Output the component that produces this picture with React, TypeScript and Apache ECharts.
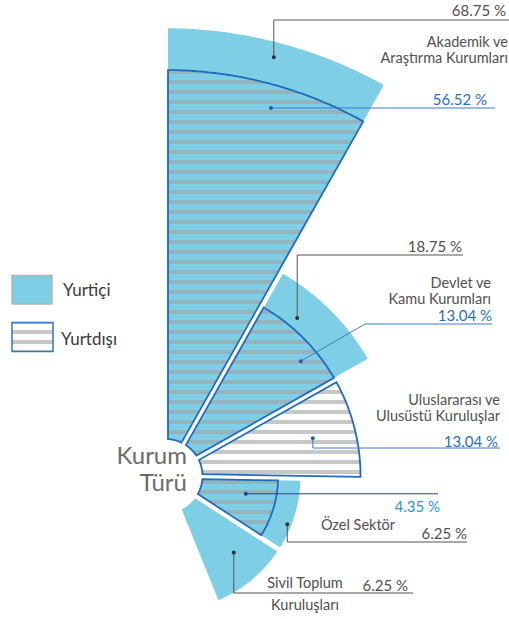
import React, { useEffect, useRef } from 'react';
import * as echarts from 'echarts';

// ---------- data ----------
const categories = [
  'Akademik ve\nAraştırma Kurumları',
  'Devlet ve\nKamu Kurumları',
  'Uluslararası ve\nUlusüstü Kuruluşlar',
  'Özel Sektör',
  'Sivil Toplum\nKuruluşları',
];
const yurtici: (number | null)[] = [68.75, 18.75, null, 6.25, 6.25];
const yurtdisi: (number | null)[] = [56.52, 13.04, 13.04, 4.35, null];
const seriesNames = ['Yurtiçi', 'Yurtdışı'];
const centerTitle = ['Kurum', 'Türü'];

// ---------- layout ----------
const W = 509;
const H = 619;
const CENTER = [165.5, 476];
const PX_PER_UNIT = 54; // radius axis unit (sqrt of %)
const RADIUS_MAX = 9;
const HOLE = 37;
const HALF_GAP = 2.5;
const EDGES = [90, 60.5, 29.5, -1, -33, -68];
const FONT = 'Lato';

const BLUE = '#7ecfe5';
const STROKE_BLUE = '#1f6bbf';
const DARK = '#505050';
const NUM_BLUE = '#2a6ec4';

type Leader = {
  f: number; ang: number; kind: 'v' | 'h' | 'd'; y?: number; elbowX?: number;
  endX: number; tx: number; ty: number; line: string; text: string; dot: string;
};
const yurticiLeaders: (Leader | null)[] = [
  { f: 0.966, ang: 75.5, kind: 'v', y: 20, endX: 509, tx: 506, ty: 10, line: '#555', text: DARK, dot: '#333' },
  { f: 0.88, ang: 50.2, kind: 'v', y: 255, endX: 463, tx: 462, ty: 246, line: '#555', text: DARK, dot: '#333' },
  null,
  { f: 0.97, ang: -21.6, kind: 'v', y: 542, endX: 467, tx: 467, ty: 533, line: '#555', text: DARK, dot: '#333' },
  { f: 0.76, ang: -48.3, kind: 'v', y: 593, endX: 413, tx: 408, ty: 585, line: '#555', text: DARK, dot: '#333' },
];
const yurtdisiLeaders: (Leader | null)[] = [
  { f: 0.943, ang: 74, kind: 'h', endX: 495, tx: 487, ty: 99, line: '#3a7bd0', text: NUM_BLUE, dot: '#1f5fb8' },
  { f: 0.91, ang: 40.3, kind: 'd', elbowX: 365, y: 324, endX: 492, tx: 492, ty: 315, line: '#3a7bd0', text: NUM_BLUE, dot: '#1f5fb8' },
  { f: 0.78, ang: 14.4, kind: 'v', y: 448, endX: 500, tx: 498, ty: 441, line: '#3a7bd0', text: NUM_BLUE, dot: '#1f5fb8' },
  { f: 0.73, ang: -12.5, kind: 'h', endX: 438, tx: 440, ty: 506, line: '#2c3e94', text: '#2196e0', dot: '#2c3e94' },
  null,
];
// name label lines: first line position and spacing
const NAME_POS: { x: number; y: number; a: string; lh: number }[] = [
  { x: 508, y: 41, a: 'right', lh: 16 },
  { x: 491, y: 282, a: 'right', lh: 16 },
  { x: 500, y: 399, a: 'right', lh: 16 },
  { x: 358, y: 524, a: 'center', lh: 16 },
  { x: 305, y: 582, a: 'center', lh: 22 },
];

function wedgePoints(cx: number, cy: number, r0: number, r1: number, a1: number, a2: number, h: number) {
  const pts: number[][] = [];
  const N = 48;
  const d = Math.PI / 180;
  const o1 = Math.asin(h / r1) / d;
  const i1 = Math.asin(h / r0) / d;
  const s = a1 + o1, e = a2 - o1;
  for (let k = 0; k <= N; k++) {
    const t = (s + ((e - s) * k) / N) * d;
    pts.push([cx + r1 * Math.cos(t), cy - r1 * Math.sin(t)]);
  }
  const s2 = a2 - i1, e2 = a1 + i1;
  for (let k = 0; k <= N; k++) {
    const t = (s2 + ((e2 - s2) * k) / N) * d;
    pts.push([cx + r0 * Math.cos(t), cy - r0 * Math.sin(t)]);
  }
  return pts;
}

export default function App() {
  const ref = useRef<HTMLDivElement>(null);
  useEffect(() => {
    const chart = echarts.init(ref.current!, null, { renderer: 'svg' });
    const canvas = document.createElement('canvas');
    canvas.width = 10;
    canvas.height = 10;
    const ctx = canvas.getContext('2d')!;
    ctx.fillStyle = 'rgba(162,162,162,0.6)';
    ctx.fillRect(0, 0, 10, 4);
    const stripe: any = { image: canvas, repeat: 'repeat', imageWidth: 10, imageHeight: 10 };

    const renderItem = (params: any, api: any) => {
      const i = params.dataIndex;
      const c = api.coord([0, 0]);
      const cx = c[0], cy = c[1];
      const radiusOf = (v: number) => {
        const p = api.coord([Math.sqrt(v), 0]);
        return Math.hypot(p[0] - cx, p[1] - cy);
      };
      const a1 = EDGES[i + 1], a2 = EDGES[i];
      const children: any[] = [];
      const vi = yurtici[i], vo = yurtdisi[i];
      if (vi != null) {
        children.push({
          type: 'polygon',
          shape: { points: wedgePoints(cx, cy, HOLE, radiusOf(vi), a1, a2, HALF_GAP) },
          style: { fill: BLUE },
        });
      }
      if (vo != null) {
        children.push({
          type: 'polygon',
          shape: { points: wedgePoints(cx, cy, HOLE, radiusOf(vo), a1, a2, HALF_GAP) },
          style: { fill: stripe, stroke: STROKE_BLUE, lineWidth: 1.8, lineJoin: 'miter' },
        });
      }
      const addLeader = (v: number | null, L: Leader | null) => {
        if (v == null || !L) return;
        const r = radiusOf(v) * L.f;
        const t = (L.ang * Math.PI) / 180;
        const dx = cx + r * Math.cos(t), dy = cy - r * Math.sin(t);
        let pts: number[][];
        if (L.kind === 'v') pts = [[dx, dy], [dx, L.y!], [L.endX, L.y!]];
        else if (L.kind === 'h') pts = [[dx, dy], [L.endX, dy]];
        else pts = [[dx, dy], [L.elbowX!, L.y!], [L.endX, L.y!]];
        children.push({ type: 'polyline', shape: { points: pts }, style: { stroke: L.line, lineWidth: 1, fill: null } });
        children.push({ type: 'circle', shape: { cx: dx, cy: dy, r: 2 }, style: { fill: L.dot } });
        children.push({
          type: 'text', x: L.tx, y: L.ty,
          style: { text: v.toFixed(2) + ' %', fill: L.text, fontSize: 15, fontFamily: FONT, align: 'right', verticalAlign: 'middle' },
        });
      };
      addLeader(vi, yurticiLeaders[i]);
      addLeader(vo, yurtdisiLeaders[i]);
      const p = NAME_POS[i];
      categories[i].split('\n').forEach((ln, k) => {
        children.push({
          type: 'text', x: p.x, y: p.y + k * p.lh,
          style: { text: ln, fill: DARK, fontSize: 14.5, fontFamily: FONT, align: p.a, verticalAlign: 'middle' },
        });
      });
      return { type: 'group', children };
    };

    const option: any = {
      animation: false,
      backgroundColor: '#ffffff',
      polar: { center: CENTER, radius: PX_PER_UNIT * RADIUS_MAX },
      angleAxis: { type: 'value', min: 0, max: 360, startAngle: 0, clockwise: false, show: false },
      radiusAxis: { type: 'value', min: 0, max: RADIUS_MAX, show: false },
      series: [
        {
          type: 'custom',
          coordinateSystem: 'polar',
          clip: false,
          data: categories.map((_, i) => [i, 0]),
          renderItem,
        },
      ],
      graphic: [
        { type: 'rect', shape: { x: 12, y: 275.5, width: 40, height: 28.5 }, style: { fill: BLUE, stroke: '#b5b5b5', lineWidth: 1.5 } },
        { type: 'text', x: 63, y: 289, style: { text: seriesNames[0], fill: '#3a3a3a', fontSize: 17, fontFamily: FONT, verticalAlign: 'middle' } },
        { type: 'rect', shape: { x: 12, y: 322.5, width: 41, height: 29 }, style: { fill: '#fff' } },
        { type: 'rect', shape: { x: 12, y: 322.5, width: 41, height: 29 }, style: { fill: stripe, stroke: '#2f78cc', lineWidth: 1.5 } },
        { type: 'text', x: 61, y: 338, style: { text: seriesNames[1], fill: '#3a3a3a', fontSize: 17, fontFamily: FONT, verticalAlign: 'middle' } },
        { type: 'text', x: 187, y: 454, style: { text: centerTitle[0], fill: '#6b6b6b', fontSize: 24, fontFamily: FONT, align: 'right', verticalAlign: 'middle' } },
        { type: 'text', x: 187, y: 481, style: { text: centerTitle[1], fill: '#6b6b6b', fontSize: 24, fontFamily: FONT, align: 'right', verticalAlign: 'middle' } },
      ],
    };
    chart.setOption(option);
    return () => chart.dispose();
  }, []);
  return <div ref={ref} style={{ position: 'fixed', left: 0, top: 0, width: W, height: H }} />;
}
